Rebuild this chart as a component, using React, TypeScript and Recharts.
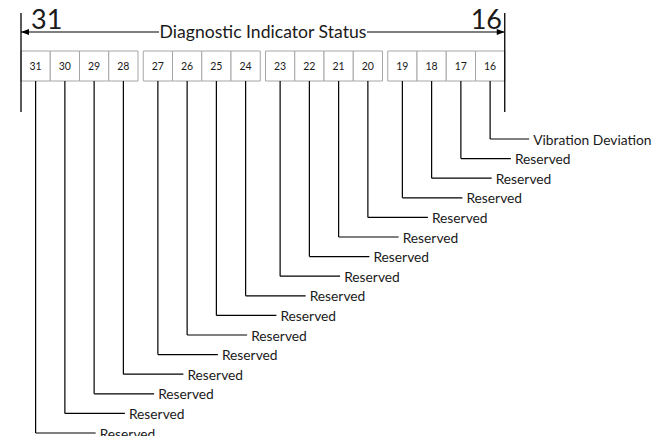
import { ComposedChart, ReferenceArea, ReferenceDot, ReferenceLine, Scatter, XAxis, YAxis } from "recharts";

// register layout: bits from MSB to LSB, and what each bit means
const BITS = [31, 30, 29, 28, 27, 26, 25, 24, 23, 22, 21, 20, 19, 18, 17, 16];
const BIT_LABELS = [
  "Reserved", "Reserved", "Reserved", "Reserved",
  "Reserved", "Reserved", "Reserved", "Reserved",
  "Reserved", "Reserved", "Reserved", "Reserved",
  "Reserved", "Reserved", "Reserved", "Vibration Deviation",
];
const FIELD_TITLE = "Diagnostic Indicator Status";
const FIELD_MSB = "31";
const FIELD_LSB = "16";

const W = 667;
const H = 436;
const X0 = 21;
const BOX_W = 29.25;
const GROUP_GAP = 5.25;
const BOX_TOP = 51;
const BOX_BOTTOM = 81;
const ROW0_Y = 139;
const ROW_STEP = 19.6;
const FONT = "Lato, 'Open Sans', sans-serif";
const INK = "#1a1a1a";

function boxLeft(i: number) {
  return X0 + i * BOX_W + Math.floor(i / 4) * GROUP_GAP;
}
function boxCenter(i: number) {
  return boxLeft(i) + BOX_W / 2;
}
function rowY(bit: number) {
  return ROW0_Y + (bit - 16) * ROW_STEP;
}
function textOffset(bit: number) {
  if (bit === 16) return 43;
  if (bit === 17) return 54;
  return 64;
}

const labelPoints = BITS.map((bit, i) => ({
  x: boxCenter(i) + textOffset(bit),
  y: rowY(bit),
  name: BIT_LABELS[i],
}));

function LabelText(props: any) {
  const { cx, cy, payload } = props;
  return (
    <text x={cx} y={cy} dominantBaseline="central" fontFamily={FONT} fontSize={13.8} fill={INK}>
      {payload.name}
    </text>
  );
}

function arrowShape(dir: "left" | "right") {
  return (props: any) => {
    const { x1, y1, x2, y2 } = props;
    const tipX = dir === "left" ? Math.min(x1, x2) : Math.max(x1, x2);
    const s = dir === "left" ? 1 : -1;
    const pts = `${tipX},${y1} ${tipX + s * 8},${y1 - 3} ${tipX + s * 8},${y1 + 3}`;
    return (
      <g>
        <line x1={x1} y1={y1} x2={x2} y2={y2} stroke="#000" strokeWidth={1.2} />
        <polygon points={pts} fill="#000" />
      </g>
    );
  };
}

function textShape(value: string, size: number, anchor: "start" | "middle" | "end") {
  return (props: any) => (
    <text x={props.cx} y={props.cy} textAnchor={anchor} dominantBaseline="central" fontFamily={FONT} fontSize={size} fill={INK}>
      {value}
    </text>
  );
}

export default function App() {
  const right = boxLeft(15) + BOX_W;
  return (
    <div style={{ position: "absolute", left: 0, top: 0, width: W, height: H, background: "#fff" }}>
      <ComposedChart width={W} height={H} margin={{ top: 0, right: 0, bottom: 0, left: 0 }}>
        <XAxis type="number" dataKey="x" domain={[0, W]} hide allowDataOverflow />
        <YAxis type="number" dataKey="y" domain={[0, H]} reversed hide allowDataOverflow />

        {/* outer field bounds */}
        <ReferenceLine segment={[{ x: X0, y: 13 }, { x: X0, y: 112 }]} stroke="#000" strokeWidth={1.3} ifOverflow="visible" />
        <ReferenceLine segment={[{ x: right, y: 13 }, { x: right, y: 112 }]} stroke="#000" strokeWidth={1.3} ifOverflow="visible" />
        <ReferenceLine segment={[{ x: X0, y: 32 }, { x: 159, y: 32 }]} ifOverflow="visible" shape={arrowShape("left")} />
        <ReferenceLine segment={[{ x: 367, y: 32 }, { x: right, y: 32 }]} ifOverflow="visible" shape={arrowShape("right")} />
        <ReferenceDot x={263} y={31} r={0} ifOverflow="visible" shape={textShape(FIELD_TITLE, 17.6, "middle")} />
        <ReferenceDot x={31} y={18} r={0} ifOverflow="visible" shape={textShape(FIELD_MSB, 27, "start")} />
        <ReferenceDot x={502} y={18} r={0} ifOverflow="visible" shape={textShape(FIELD_LSB, 27, "end")} />

        {/* bit boxes */}
        {BITS.map((bit, i) => (
          <ReferenceArea
            key={`box-${bit}`}
            x1={boxLeft(i)}
            x2={boxLeft(i) + BOX_W}
            y1={BOX_TOP}
            y2={BOX_BOTTOM}
            fill="#fff"
            fillOpacity={1}
            stroke="#a6a6a6"
            strokeWidth={1}
            ifOverflow="visible"
            label={{ value: String(bit), position: "center", fontSize: 10.5, fill: INK, fontFamily: FONT }}
          />
        ))}

        {/* leader lines */}
        {BITS.map((bit, i) => (
          <ReferenceLine
            key={`lv-${bit}`}
            segment={[{ x: boxCenter(i), y: BOX_BOTTOM }, { x: boxCenter(i), y: rowY(bit) }]}
            stroke="#000"
            strokeWidth={1.2}
            ifOverflow="visible"
          />
        ))}
        {BITS.map((bit, i) => (
          <ReferenceLine
            key={`lh-${bit}`}
            segment={[{ x: boxCenter(i), y: rowY(bit) }, { x: boxCenter(i) + textOffset(bit) - 4, y: rowY(bit) }]}
            stroke="#000"
            strokeWidth={1.2}
            ifOverflow="visible"
          />
        ))}

        <Scatter data={labelPoints} shape={LabelText} isAnimationActive={false} />
      </ComposedChart>
    </div>
  );
}
